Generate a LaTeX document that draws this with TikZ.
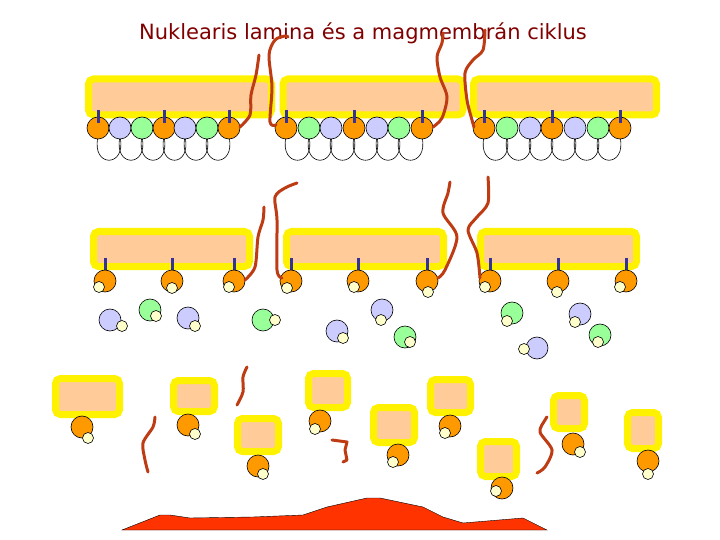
\documentclass[tikz,border=0pt]{standalone}
\usepackage{fontspec}
\newfontfamily\titlefont{DejaVu Sans}
\begin{document}
\begin{tikzpicture}[x=1pt,y=-1pt,
  lbox/.style={draw=yellow,line width=7pt,fill=peach,rounded corners=5pt,inner sep=0pt},
  orc/.style={circle,draw=black,line width=0.6pt,fill=orangec,minimum size=22pt,inner sep=0pt},
  lvc/.style={circle,draw=black,line width=0.6pt,fill=lav,minimum size=22pt,inner sep=0pt},
  grc/.style={circle,draw=black,line width=0.6pt,fill=grn,minimum size=22pt,inner sep=0pt},
  crc/.style={circle,draw=black,line width=0.6pt,fill=cream,minimum size=11pt,inner sep=0pt},
  tick/.style={draw=navy,line width=3pt},
  chrom/.style={draw=chromc,line width=3pt,line cap=round,line join=round},
  loopl/.style={draw=black,line width=0.6pt}]
\definecolor{peach}{RGB}{255,204,153}
\definecolor{orangec}{RGB}{255,153,0}
\definecolor{lav}{RGB}{204,204,255}
\definecolor{grn}{RGB}{153,255,153}
\definecolor{cream}{RGB}{255,255,204}
\definecolor{navy}{RGB}{51,51,153}
\definecolor{chromc}{RGB}{190,60,20}
\definecolor{titlec}{RGB}{128,0,0}
\definecolor{redm}{RGB}{255,51,0}
\useasboundingbox (0,0) rectangle (720,540);
\node[text=titlec,font=\titlefont\fontsize{21}{24}\selectfont] (title) at (363,33) {Nuklearis lamina és a magmembrán ciklus};
% top row
\node[lbox,minimum width=183pt,minimum height=36pt] (t1) at (180,97) {};
\node[lbox,minimum width=180pt,minimum height=36pt] (t2) at (373,97) {};
\node[lbox,minimum width=183pt,minimum height=36pt] (t3) at (565,97) {};
\foreach \x/\xn in {98/120,120/142,142/164,164/185,185/207,207/229,
  286/309,309/331,331/354,354/377,377/399,399/422,
  484/507,507/530,530/552,552/575,575/598,598/620}{
  \draw[loopl] (\x,137) .. controls (\x-7,168) and (\xn+7,168) .. (\xn,137);
}
\foreach \x/\s [count=\i] in {98/orc,120/lvc,142/grc,164/orc,185/lvc,207/grc,229/orc,
  286/orc,309/grc,331/lvc,354/orc,377/lvc,399/grc,422/orc,
  484/orc,507/grc,530/lvc,552/orc,575/lvc,598/grc,620/orc}{
  \node[\s] (tc\i) at (\x,128) {};
}
\foreach \x in {98,164,229,286,354,422,484,552,620}{\draw[tick] (\x,110) -- (\x,123);}
% middle row
\node[lbox,minimum width=156pt,minimum height=35pt] (m1) at (171.5,249) {};
\node[lbox,minimum width=157pt,minimum height=35pt] (m2) at (365,249) {};
\node[lbox,minimum width=156pt,minimum height=35pt] (m3) at (558.5,249) {};
\foreach \x/\cx/\cy [count=\i] in {105/99/287,172/172/288,234/229/287,291/287/288,358/354/287,427/428/292,490/485/287,558/557/292,626/620/287}{
  \draw[tick] (\x,258) -- (\x,273);
  \node[orc] (mc\i) at (\x,281) {};
  \node[crc] (mk\i) at (\cx,\cy) {};
}
% free vesicles
\foreach \x/\y/\s/\cx/\cy [count=\i] in {110/320/lvc/122/326,150/310/grc/156/316,188/318/lvc/195/326,
  263/320/grc/275/320,337/331/lvc/343/338,382/310/lvc/381/320,405/337/grc/410/342,
  512/313/grc/507/321,537/348/lvc/524/349,580/314/lvc/575/322,600/335/grc/598/342}{
  \node[\s] (fv\i) at (\x,\y) {};
  \node[crc] (fk\i) at (\cx,\cy) {};
}
% bottom vesicles
\foreach \x/\y/\w/\h/\ox/\oy/\cx/\cy [count=\i] in {
  87.5/396.5/64/36/82/427/88/438,
  194/396/41/31/188/425/195/434,
  258/435/41/33/258/466/263/474,
  328/390.5/39/34/320/421/315/429,
  394/425/41/35/398/455/393/462,
  450.5/396/40/33/450/426/445/433,
  498.5/459/36/35/502/488/496/491,
  569/412/31/33/573/444/580/452,
  643/430.5/31/36/648/461/648/474}{
  \node[lbox,minimum width=\w pt,minimum height=\h pt] (bb\i) at (\x,\y) {};
  \node[orc] (bc\i) at (\ox,\oy) {};
  \node[crc] (bk\i) at (\cx,\cy) {};
}
% chromatin
\draw[chrom] plot[smooth] coordinates {(240,127) (250,115) (251,95) (256,75) (259,55)};
\draw[chrom] plot[smooth] coordinates {(276,125) (270,122) (272,87) (269,55) (275,40) (285,36) (288,37)};
\draw[chrom] plot[smooth] coordinates {(433,127) (442,118) (447,97) (440,77) (437,57) (442,43) (443,33)};
\draw[chrom] plot[smooth] coordinates {(474,127) (472,120) (467,100) (465,73) (473,60) (483,50) (485,30)};
\draw[chrom] plot[smooth] coordinates {(245,280) (255,267) (258,237) (263,220) (264,207)};
\draw[chrom] plot[smooth] coordinates {(282,278) (277,270) (277,220) (275,197) (285,188) (297,183)};
\draw[chrom] plot[smooth] coordinates {(438,278) (445,270) (457,237) (443,213) (448,193) (450,182)};
\draw[chrom] plot[smooth] coordinates {(480,278) (477,253) (468,230) (477,217) (488,203) (488,177)};
\draw[chrom] plot[smooth] coordinates {(148,472) (145,460) (143,443) (153,427) (155,417)};
\draw[chrom] plot[smooth] coordinates {(237,405) (243,392) (243,377) (247,367)};
\draw[chrom] plot coordinates {(332,440) (347,442) (345,450) (347,460) (343,462)};
\draw[chrom] plot[smooth] coordinates {(537,473) (545,467) (552,450) (540,432) (545,420) (547,417)};
% lamina polymer mass
\fill[redm,draw=black,line width=0.4pt] (122,530) -- (160,515) -- (170,515) -- (190,518) -- (253,517) -- (303,515)
  -- (327,507) -- (367,498) -- (380,498) -- (423,507) -- (443,517) -- (463,523) -- (523,518) -- (533,523) -- (547,530) -- cycle;
\end{tikzpicture}
\end{document}
